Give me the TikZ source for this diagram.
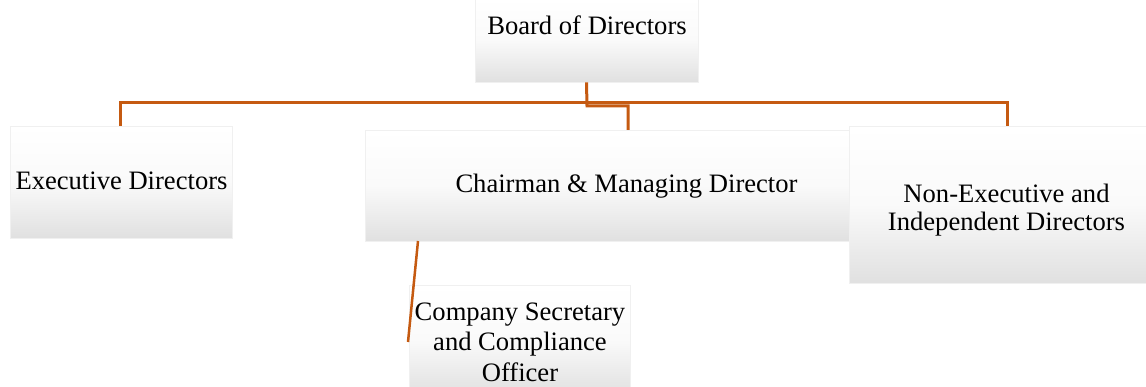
\documentclass[tikz,border=0pt]{standalone}
\usepackage{fontspec}
\setmainfont{Liberation Serif}
\definecolor{linkc}{RGB}{197,90,17}
\tikzset{
  box/.style={rectangle, inner sep=0pt, draw=gray!12, line width=0.8pt,
    top color=white, bottom color=gray!24, middle color=white!96!gray},
  lbl/.style={inner sep=0pt, font=\fontsize{26.6}{28}\selectfont, text=black},
  conn/.style={draw=linkc, line width=3pt}
}
\begin{document}
\begin{tikzpicture}[x=1pt,y=-1pt]
\useasboundingbox (0,0) rectangle (1146,387);
% boxes
\node[box, minimum width=223pt, minimum height=84pt] (board) at (586.5,40) {};
\node[box, minimum width=222pt, minimum height=112pt] (exec) at (121,182) {};
\node[box, minimum width=485pt, minimum height=111pt] (chair) at (607.5,185.5) {};
\node[box, minimum width=305pt, minimum height=157pt] (nonexec) at (1001.5,204.5) {};
\node[box, minimum width=221pt, minimum height=110pt] (comp) at (519.5,340) {};
% texts
\node[lbl, anchor=base] (tboard) at (587,35) {Board of Directors};
\node[lbl, anchor=base] (texec) at (121.5,190) {Executive Directors};
\node[lbl, anchor=base] (tchair) at (626.5,193) {Chairman \& Managing Director};
\node[lbl, align=center, font=\fontsize{26.6}{28.5}\selectfont] (tnonexec) at (1006.5,210) {Non-Executive and\\Independent Directors};
\node[lbl, align=center, font=\fontsize{26.6}{30.5}\selectfont] (tcomp) at (520,342) {Company Secretary\\and Compliance\\Officer};
% connectors
\coordinate (busL) at (120,103);
\coordinate (busR) at (1007,103);
\coordinate (jn) at (587,106);
\coordinate (chairin) at (628,130);
\coordinate (cs1) at (418,241);
\coordinate (cs2) at (408,342);
\draw[conn] (busL |- exec.north) -- (busL) -- (busR) -- (busR |- nonexec.north);
\draw[conn] (board.south) -- (jn) -| (chairin);
\draw[conn, line width=2.5pt] (cs1) -- (cs2);
\end{tikzpicture}
\end{document}
